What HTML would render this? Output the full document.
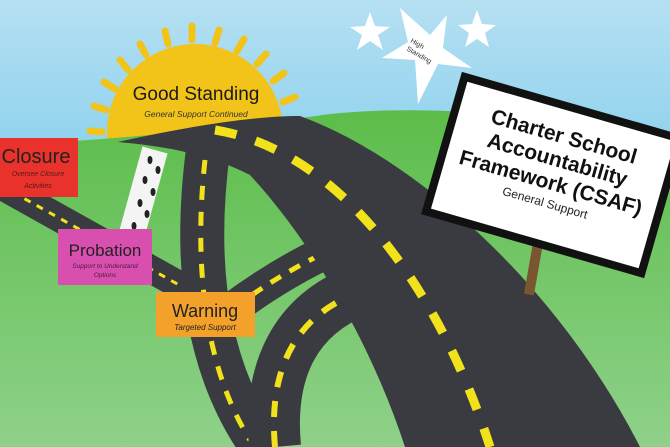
<!DOCTYPE html>
<html><head><meta charset="utf-8"><style>
html,body{margin:0;padding:0;width:670px;height:447px;overflow:hidden}
svg{display:block}
text{font-family:"Liberation Sans",Arial,sans-serif}
</style></head><body>
<svg width="670" height="447" viewBox="0 0 670 447" xmlns="http://www.w3.org/2000/svg">
<defs>
<linearGradient id="sky" x1="0" y1="0" x2="0" y2="1">
<stop offset="0" stop-color="#b6e0f2"/><stop offset="0.5" stop-color="#7ccbec"/><stop offset="1" stop-color="#9ad7f0"/>
</linearGradient>
<linearGradient id="grass" x1="0" y1="0" x2="0" y2="1">
<stop offset="0" stop-color="#5cbd4a"/><stop offset="1" stop-color="#8fd18a"/>
</linearGradient>
</defs>
<rect width="670" height="447" fill="url(#sky)"/>
<!-- sun rays -->
<g stroke="#f2c318" stroke-width="7" stroke-linecap="round">
<line x1="102" y1="132" x2="90" y2="131"/><line x1="106" y1="110" x2="94" y2="106"/><line x1="115" y1="89" x2="104" y2="82"/>
<line x1="128" y1="70" x2="120" y2="60"/><line x1="146" y1="55" x2="140" y2="44"/><line x1="168" y1="44" x2="165" y2="31"/>
<line x1="192" y1="40" x2="192" y2="26"/><line x1="215" y1="43" x2="219" y2="30"/><line x1="237" y1="51" x2="244" y2="39"/>
<line x1="257" y1="64" x2="266" y2="54"/><line x1="273" y1="81" x2="284" y2="73"/><line x1="283" y1="102" x2="295" y2="97"/>
<line x1="288" y1="124" x2="300" y2="122"/>
</g>
<circle cx="195" cy="132" r="88" fill="#f2c318"/>
<!-- hill -->
<path d="M0 145 C120 140 230 128 330 114 C450 102 580 120 670 145 L670 447 L0 447 Z" fill="url(#grass)"/>
<!-- stars -->
<g fill="#fff">
<polygon points="370,12 375,26 390,27 378,35 383,50 370,41 357,50 362,35 350,27 365,26"/>
<polygon points="477,10 482,24 496,25 485,33 489,47 477,39 465,47 469,33 458,25 472,24"/>
<polygon points="400,8 430,35 447,15 443,48 472,68 438,64 418,104 415,60 382,58 408,42"/>
</g>
<text transform="translate(410,42) rotate(30)" font-size="7" fill="#333">High</text>
<text transform="translate(406,50) rotate(30)" font-size="7" fill="#333">Standing</text>
<!-- left closure road -->
<path d="M0 185 L215 305" stroke="#3a3b40" stroke-width="28" fill="none"/>
<path d="M0 185 L215 305" stroke="#f2e21b" stroke-width="3" stroke-dasharray="7 7" fill="none"/>
<!-- footpath -->
<path d="M155 150 L128 248" stroke="#f4f4f4" stroke-width="26"/>
<g fill="#222"><ellipse cx="150" cy="160" rx="2.5" ry="4"/><ellipse cx="158" cy="170" rx="2.5" ry="4"/><ellipse cx="145" cy="180" rx="2.5" ry="4"/><ellipse cx="153" cy="192" rx="2.5" ry="4"/><ellipse cx="140" cy="203" rx="2.5" ry="4"/><ellipse cx="147" cy="214" rx="2.5" ry="4"/><ellipse cx="134" cy="226" rx="2.5" ry="4"/><ellipse cx="141" cy="236" rx="2.5" ry="4"/></g>
<!-- cross road -->
<path d="M200 335 C240 300 290 268 335 248" stroke="#3a3b40" stroke-width="34" fill="none"/>
<path d="M200 335 C240 300 290 268 335 248" stroke="#f2e21b" stroke-width="5" stroke-dasharray="12 10" fill="none"/>
<!-- vertical branch -->
<path d="M208 150 C195 250 200 360 262 447" stroke="#3a3b40" stroke-width="44" fill="none"/>
<path d="M205 160 C195 250 200 360 250 440" stroke="#f2e21b" stroke-width="5" stroke-dasharray="14 12" fill="none"/>
<!-- arc road -->
<path d="M275 447 C268 370 295 315 360 290" stroke="#3a3b40" stroke-width="52" fill="none"/>
<path d="M275 447 C268 370 295 315 360 292" stroke="#f2e21b" stroke-width="6" stroke-dasharray="16 14" fill="none"/>
<!-- main road -->
<path d="M118 142 C180 128 250 116 300 116 C420 160 560 290 640 447 L405 447 C370 340 310 240 250 175 C205 152 160 146 118 142 Z" fill="#3a3b40"/>
<path d="M215 130 C340 150 440 290 490 447" stroke="#f2e21b" stroke-width="9" stroke-dasharray="22 20" fill="none"/>
<!-- sun text -->
<text x="196" y="100" font-size="19" text-anchor="middle" fill="#1a1a1a">Good Standing</text>
<text x="196" y="117" font-size="8.5" font-style="italic" text-anchor="middle" fill="#333">General Support Continued</text>
<!-- boxes -->
<rect x="0" y="138" width="78" height="59" fill="#e8322b"/>
<text x="36" y="163" font-size="20" text-anchor="middle" fill="#222">Closure</text>
<text x="38" y="176" font-size="7" font-style="italic" text-anchor="middle" fill="#5a1a1a">Oversee Closure</text>
<text x="38" y="188" font-size="7" font-style="italic" text-anchor="middle" fill="#5a1a1a">Activities</text>
<rect x="58" y="229" width="94" height="56" fill="#d94fb0"/>
<text x="105" y="256" font-size="17" text-anchor="middle" fill="#222">Probation</text>
<text x="105" y="268" font-size="6.5" font-style="italic" text-anchor="middle" fill="#4a1a3a">Support to Understand</text>
<text x="105" y="277" font-size="6.5" font-style="italic" text-anchor="middle" fill="#4a1a3a">Options</text>
<rect x="156" y="292" width="99" height="45" fill="#f3a12a"/>
<text x="205" y="317" font-size="18" text-anchor="middle" fill="#222">Warning</text>
<text x="205" y="330" font-size="8" font-style="italic" text-anchor="middle" fill="#222">Targeted Support</text>
<!-- sign -->
<rect x="530" y="240" width="10" height="55" fill="#7a5630" transform="rotate(10 535 260)"/>
<g transform="translate(553,175) rotate(16)">
<rect x="-112" y="-70" width="224" height="140" fill="#fff" stroke="#111" stroke-width="8"/>
<text y="-33" font-size="21" font-weight="bold" text-anchor="middle" fill="#111">Charter School</text>
<text y="-9" font-size="21" font-weight="bold" text-anchor="middle" fill="#111">Accountability</text>
<text y="15" font-size="21" font-weight="bold" text-anchor="middle" fill="#111">Framework (CSAF)</text>
<text y="33" font-size="12" text-anchor="middle" fill="#222">General Support</text>
</g>
</svg>
</body></html>
